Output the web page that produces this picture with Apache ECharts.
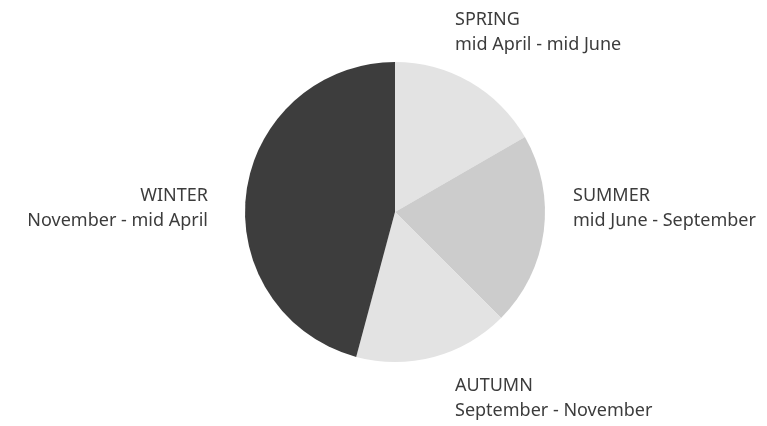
<!DOCTYPE html>
<html>
<head>
<meta charset="utf-8">
<script src="https://cdn.jsdelivr.net/npm/echarts@6/dist/echarts.min.js"></script>
<style>
  html, body { margin: 0; padding: 0; background: #fff; }
  #main { width: 767px; height: 426px; }
</style>
</head>
<body>
<div id="main"></div>
<script>
// seasons, length in months
const seasons = ['SPRING', 'SUMMER', 'AUTUMN', 'WINTER'];
const periods = ['mid April - mid June', 'mid June - September', 'September - November', 'November - mid April'];
const months = [2, 2.5, 2, 5.5];
const colors = ['#e3e3e3', '#cccccc', '#e3e3e3', '#3d3d3d'];

// where each label sits (left/right anchor, vertical middle)
const labelSpots = [
  { x: 455, y: 32, align: 'left' },
  { x: 573, y: 208, align: 'left' },
  { x: 455, y: 398, align: 'left' },
  { x: 208, y: 208, align: 'right' }
];

const chart = echarts.init(document.getElementById('main'));

const option = {
  backgroundColor: '#fff',
  animation: false,
  series: [
    {
      type: 'pie',
      center: [395, 212],
      radius: 150,
      startAngle: 90,
      clockwise: true,
      data: seasons.map((s, i) => ({
        name: s,
        value: months[i],
        itemStyle: { color: colors[i] }
      })),
      label: {
        show: true,
        position: 'outside',
        overflow: 'none',
        formatter: (p) => p.name + '\n' + periods[p.dataIndex],
        fontFamily: 'Noto Sans',
        fontSize: 18,
        lineHeight: 25,
        color: '#3c3c3c'
      },
      labelLine: { show: false },
      labelLayout: (params) => {
        const s = labelSpots[params.dataIndex];
        return { x: s.x, y: s.y, align: s.align, verticalAlign: 'middle' };
      }
    }
  ]
};

chart.setOption(option);
</script>
</body>
</html>
